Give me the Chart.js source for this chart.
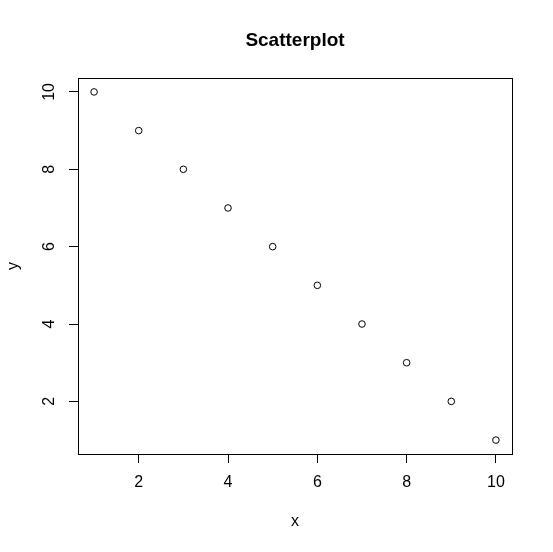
<!DOCTYPE html>
<html>
<head>
<meta charset="utf-8">
<style>
  html, body { margin: 0; padding: 0; background: #fff; }
  #wrap { width: 553px; height: 552px; }
</style>
<script src="https://cdn.jsdelivr.net/npm/chart.js@4/dist/chart.umd.min.js"></script>
</head>
<body>
<div id="wrap"><canvas id="c" width="553" height="552"></canvas></div>
<script>
const xValues = [1, 2, 3, 4, 5, 6, 7, 8, 9, 10];
const yValues = [10, 9, 8, 7, 6, 5, 4, 3, 2, 1];
const xTicks = [2, 4, 6, 8, 10];
const yTicks = [2, 4, 6, 8, 10];
const chartTitle = 'Scatterplot';
const xTitle = 'x';
const yTitle = 'y';

const FONT = '"Liberation Sans", Arial, sans-serif';

const boxPlugin = {
  id: 'rbox',
  afterDraw(chart) {
    const { ctx, chartArea: a, scales } = chart;
    ctx.save();
    ctx.strokeStyle = '#000';
    ctx.lineWidth = 1;
    ctx.strokeRect(Math.round(a.left) + 0.5, Math.round(a.top) + 0.5,
      Math.round(a.right - a.left), Math.round(a.bottom - a.top));
    ctx.fillStyle = '#000';
    // title
    ctx.font = 'bold 19px ' + FONT;
    ctx.textAlign = 'center';
    ctx.textBaseline = 'middle';
    ctx.fillText(chartTitle, (a.left + a.right) / 2, 41);
    // x tick labels
    ctx.font = '16px ' + FONT;
    xTicks.forEach(v => {
      ctx.fillText(String(v), scales.x.getPixelForValue(v), 483);
    });
    // y tick labels (rotated)
    yTicks.forEach(v => {
      ctx.save();
      ctx.translate(50, scales.y.getPixelForValue(v));
      ctx.rotate(-Math.PI / 2);
      ctx.fillText(String(v), 0, 0);
      ctx.restore();
    });
    // axis titles
    ctx.fillText(xTitle, (a.left + a.right) / 2, 522);
    ctx.save();
    ctx.translate(14, (a.top + a.bottom) / 2);
    ctx.rotate(-Math.PI / 2);
    ctx.fillText(yTitle, 0, 0);
    ctx.restore();
    ctx.restore();
  }
};

new Chart(document.getElementById('c'), {
  type: 'scatter',
  data: {
    datasets: [{
      data: xValues.map((x, i) => ({ x: x, y: yValues[i] })),
      pointStyle: 'circle',
      pointRadius: 3.3,
      pointHoverRadius: 3.3,
      pointBorderColor: '#000',
      pointBackgroundColor: 'rgba(0,0,0,0)',
      pointBorderWidth: 1,
      showLine: false
    }]
  },
  options: {
    responsive: false,
    animation: false,
    events: [],
    layout: { padding: { left: 0, right: 41, top: 78, bottom: 0 } },
    plugins: { legend: { display: false }, tooltip: { enabled: false }, title: { display: false } },
    scales: {
      x: {
        type: 'linear',
        min: 0.64, max: 10.36,
        afterBuildTicks: s => { s.ticks = xTicks.map(v => ({ value: v })); },
        afterFit: s => { s.height = 98; },
        ticks: { display: false },
        border: { display: false },
        grid: { drawOnChartArea: false, drawTicks: true, tickLength: 9, color: '#000', lineWidth: 1 }
      },
      y: {
        type: 'linear',
        min: 0.64, max: 10.36,
        afterBuildTicks: s => { s.ticks = yTicks.map(v => ({ value: v })); },
        afterFit: s => { s.width = 78; },
        ticks: { display: false },
        border: { display: false },
        grid: { drawOnChartArea: false, drawTicks: true, tickLength: 9, color: '#000', lineWidth: 1 }
      }
    }
  },
  plugins: [boxPlugin]
});
</script>
</body>
</html>
